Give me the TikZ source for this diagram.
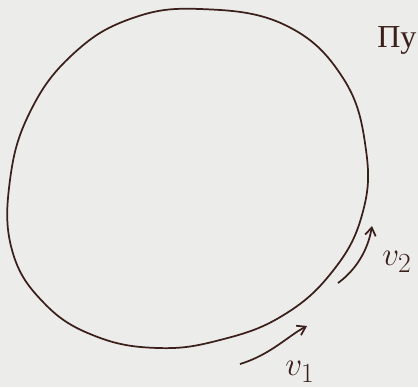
\documentclass[tikz,border=0pt]{standalone}
\usepackage{fontspec}
\usetikzlibrary{arrows.meta}
\newfontfamily\cyrfont{Liberation Serif}
\definecolor{ink}{HTML}{3B1F1B}
\definecolor{paper}{HTML}{ECECEA}

\begin{document}
\begin{tikzpicture}[x=0.75pt,y=-0.75pt,>={Straight Barb[length=6pt,width=8pt]},line width=1.3pt,
  lbl/.style={text=ink,font=\fontsize{28}{30}\selectfont}]
\fill[paper] (0,0) rectangle (418,387);
\useasboundingbox (0,0) rectangle (418,387);
% orbit
\draw[ink,line join=round] plot[smooth cycle,tension=0.7] coordinates{
  (200,9) (285,25) (343,78) (366,150) (362,215) (332,272) (282,316)
  (220,340) (158,348) (95,336) (44,303) (12,250) (10,180) (30,112) (72,55) (130,19)};
% velocities
\coordinate (v1s) at (240,364); \coordinate (v1e) at (307,326);
\coordinate (v2s) at (338,283); \coordinate (v2e) at (372,226);
\draw[ink,->] (v1s) .. controls (270,355) and (288,336) .. (v1e);
\draw[ink,->] (v2s) .. controls (356,270) and (368,250) .. (v2e);
\node[lbl] (v1) at (300,372) {$v_1$};
\node[lbl] (v2) at (397,262) {$v_2$};
\node[text=ink,font=\cyrfont\fontsize{24}{26}\selectfont,anchor=west] (ttl) at (372,40) {Пу};
\end{tikzpicture}
\end{document}
